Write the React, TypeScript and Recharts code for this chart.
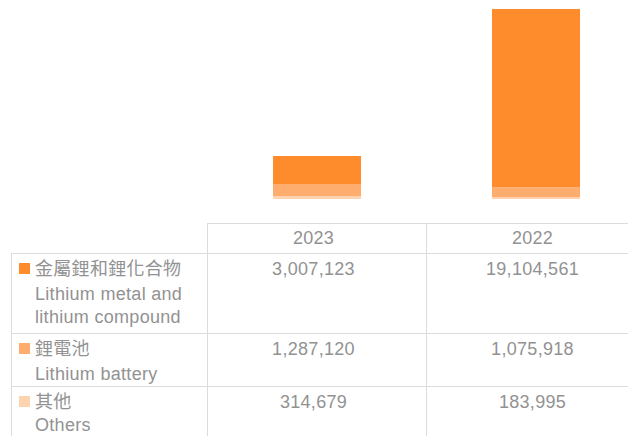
import { BarChart, Bar, XAxis, YAxis } from 'recharts';

// 年度と各品目の金額
const years = ['2023', '2022'];
const metalValues = [3007123, 19104561];
const batteryValues = [1287120, 1075918];
const otherValues = [314679, 183995];

const rowLabelsZh = ['金屬鋰和鋰化合物', '鋰電池', '其他'];
const rowLabelsEn = [['Lithium metal and', 'lithium compound'], ['Lithium battery'], ['Others']];
const rowColors = ['#FE8C2D', '#FEAD6F', '#FED3AF'];

const chartData = years.map((year, i) => ({
  year,
  metal: metalValues[i],
  battery: batteryValues[i],
  others: otherValues[i],
}));

const rowValues = [metalValues, batteryValues, otherValues];

const LINE = '1px solid #dcdcdc';
const TEXT = '#929292';
const FONT = "'Liberation Sans', 'Noto Sans CJK TC', sans-serif";

// 表のレイアウト
const colX = [11, 207, 426];
const colW = [196, 219, 219];
const rowTop = [223, 253, 333, 386];
const rowH = [30, 80, 53, 60];

function fmt(v: number) {
  return v.toLocaleString('en-US');
}

export default function App() {
  return (
    <div
      style={{
        position: 'absolute',
        left: 0,
        top: 0,
        width: 628,
        height: 436,
        overflow: 'hidden',
        background: '#fff',
        fontFamily: FONT,
        fontSize: 18,
        letterSpacing: 0.3,
        color: TEXT,
      }}
    >
      <div style={{ position: 'absolute', left: 207, top: 0 }}>
        <BarChart
          width={438}
          height={223}
          data={chartData}
          margin={{ top: 9, right: 0, bottom: 24, left: 0 }}
        >
          <XAxis dataKey="year" hide />
          <YAxis hide domain={[0, 'dataMax']} />
          <Bar dataKey="others" stackId="a" fill={rowColors[2]} barSize={88} isAnimationActive={false} />
          <Bar dataKey="battery" stackId="a" fill={rowColors[1]} barSize={88} isAnimationActive={false} />
          <Bar dataKey="metal" stackId="a" fill={rowColors[0]} barSize={88} isAnimationActive={false} />
        </BarChart>
      </div>

      {/* ヘッダー行 */}
      {years.map((year, i) => (
        <div
          key={`h-${year}`}
          style={{
            position: 'absolute',
            left: colX[i + 1],
            top: rowTop[0],
            width: colW[i + 1],
            height: rowH[0],
            boxSizing: 'border-box',
            borderTop: LINE,
            borderLeft: LINE,
            lineHeight: '29px',
            textAlign: 'center',
            paddingRight: 7,
          }}
        >
          {year}
        </div>
      ))}

      {/* データ行 */}
      {rowLabelsZh.map((zh, r) => (
        <div key={`row-${r}`}>
          <div
            style={{
              position: 'absolute',
              left: colX[0],
              top: rowTop[r + 1],
              width: colW[0],
              height: rowH[r + 1],
              boxSizing: 'border-box',
              borderTop: LINE,
              borderLeft: LINE,
              paddingTop: 3,
              paddingLeft: 23,
            }}
          >
            <div
              style={{
                position: 'absolute',
                left: 7,
                top: 9,
                width: 11,
                height: 11,
                background: rowColors[r],
              }}
            />
            <div style={{ lineHeight: '24px', whiteSpace: 'nowrap' }}>{zh}</div>
            <div style={{ lineHeight: '23px', paddingTop: r === 2 ? 0 : 2, whiteSpace: 'nowrap' }}>
              {rowLabelsEn[r].map((line) => (
                <div key={line}>{line}</div>
              ))}
            </div>
          </div>
          {rowValues[r].map((v, c) => (
            <div
              key={`v-${r}-${c}`}
              style={{
                position: 'absolute',
                left: colX[c + 1],
                top: rowTop[r + 1],
                width: colW[c + 1],
                height: rowH[r + 1],
                boxSizing: 'border-box',
                borderTop: LINE,
                borderLeft: LINE,
                paddingTop: 3,
                paddingRight: 7,
                lineHeight: '24px',
                textAlign: 'center',
              }}
            >
              {fmt(v)}
            </div>
          ))}
        </div>
      ))}
    </div>
  );
}
